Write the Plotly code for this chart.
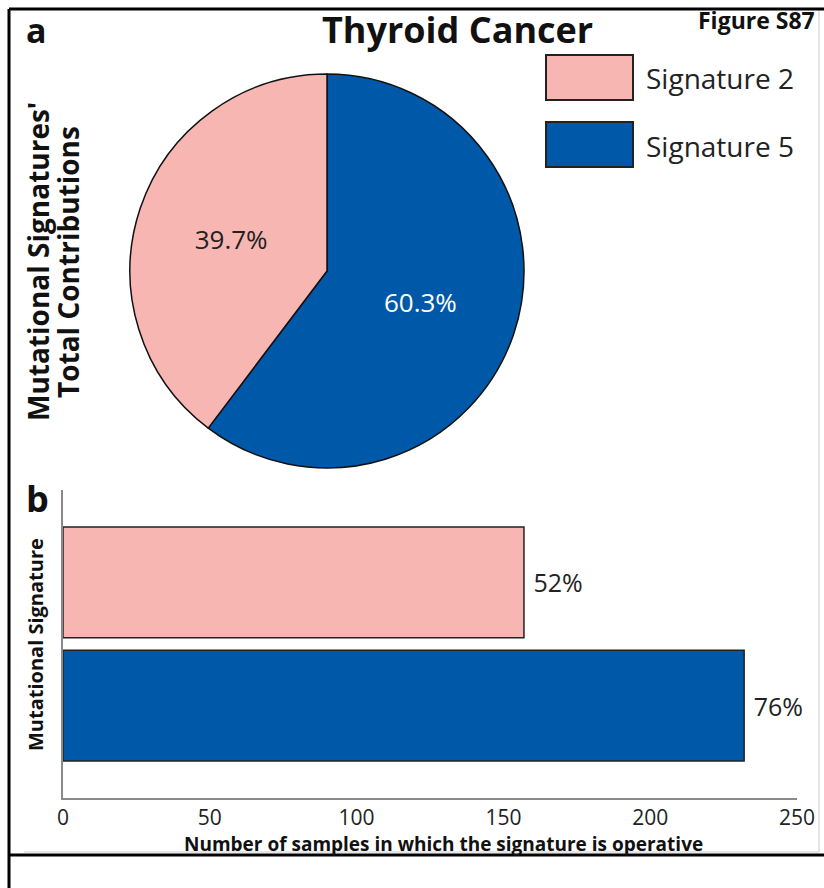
import plotly.graph_objects as go

# ---- data ----
pie_labels = ["Signature 5", "Signature 2"]
pie_values = [60.3, 39.7]
legend_labels = ["Signature 2", "Signature 5"]
bar_counts = [157, 232]
bar_pct_text = ["52%", "76%"]
x_ticks = [0, 50, 100, 150, 200, 250]

PINK = "#F7B6B2"
BLUE = "#0058A8"
FONT = "Open Sans"

W, H = 824, 888

def px(x):
    return x / W

def py(y):
    return 1 - y / H

fig = go.Figure()

fig.add_trace(go.Pie(
    labels=pie_labels, values=pie_values, sort=False,
    direction="clockwise", rotation=0,
    marker=dict(colors=[BLUE, PINK], line=dict(color="#111111", width=1.5)),
    texttemplate="%{value:.1f}%", textposition="inside",
    insidetextfont=dict(family=FONT, size=26, color=["#ffffff", "#222222"]),
    domain=dict(x=[px(130), px(524)], y=[py(468), py(74)]),
    showlegend=False, hoverinfo="label+percent",
))

# bars: pink (Signature 2) on top (y=1), blue (Signature 5) below (y=0)
fig.add_trace(go.Bar(
    x=bar_counts, y=[1, 0], orientation="h",
    marker=dict(color=[PINK, BLUE], line=dict(color="#222222", width=1.5)),
    width=0.9,
    text=bar_pct_text, texttemplate="\u00a0%{text}",
    textposition="outside", cliponaxis=False,
    textfont=dict(family=FONT, size=25, color="#222222"),
    showlegend=False, xaxis="x", yaxis="y",
))

fig.update_layout(
    width=W, height=H, autosize=False, margin=dict(l=0, r=0, t=0, b=0, autoexpand=False),
    paper_bgcolor="white", plot_bgcolor="white",
    xaxis=dict(domain=[px(63), px(797)], range=[0, 250], tickvals=x_ticks,
               showline=True, linecolor="#8a8a8a", linewidth=2,
               showgrid=False, zeroline=False, ticks="", ticklabelstandoff=0,
               tickfont=dict(family=FONT, size=21, color="#222222"),
               anchor="y"),
    yaxis=dict(domain=[py(798), py(490)], range=[-0.75, 1.75],
               showline=True, linecolor="#8a8a8a", linewidth=2,
               showgrid=False, zeroline=False, showticklabels=False, ticks="",
               anchor="x"),
)

shapes = []
# frame lines
shapes.append(dict(type="line", xref="paper", yref="paper", x0=px(24), x1=px(819), y0=py(852), y1=py(852),
                   line=dict(color="#dddddd", width=1.5)))
shapes.append(dict(type="line", xref="paper", yref="paper", x0=px(819), x1=px(819), y0=py(852), y1=py(10),
                   line=dict(color="#dddddd", width=1.5)))
shapes.append(dict(type="line", xref="paper", yref="paper", x0=px(9), x1=1, y0=py(9), y1=py(9),
                   line=dict(color="black", width=3)))
shapes.append(dict(type="line", xref="paper", yref="paper", x0=px(9), x1=px(9), y0=py(9), y1=0,
                   line=dict(color="black", width=3)))
shapes.append(dict(type="line", xref="paper", yref="paper", x0=px(9), x1=1, y0=py(855), y1=py(855),
                   line=dict(color="black", width=3)))
# legend boxes
for (y0, y1), c in zip([(55, 100), (122, 167)], [PINK, BLUE]):
    shapes.append(dict(type="rect", xref="paper", yref="paper", x0=px(546), x1=px(633), y0=py(y1), y1=py(y0),
                       fillcolor=c, line=dict(color="#222222", width=2)))
fig.update_layout(shapes=shapes)

ann = []
def A(text, x, y, size, bold=False, angle=0, xanchor="center", color="#111111"):
    t = f"<b>{text}</b>" if bold else text
    ann.append(dict(text=t, x=px(x), y=py(y), xref="paper", yref="paper", showarrow=False,
                    font=dict(family=FONT, size=size, color=color), textangle=angle,
                    xanchor=xanchor, yanchor="middle"))

A("Thyroid Cancer", 457, 30, 36, bold=True)
A("Figure S87", 756, 20, 23, bold=True)
A("a", 36, 30, 34, bold=True)
A("b", 37, 498, 36, bold=True)
A(legend_labels[0], 644, 78, 28, xanchor="left", color="#222222")
A(legend_labels[1], 644, 146, 28, xanchor="left", color="#222222")
A("Mutational Signatures'", 38, 262, 28, bold=True, angle=-90)
A("Total Contributions", 68, 262, 28, bold=True, angle=-90)
A("Mutational Signature", 35, 645, 20, bold=True, angle=-90)
A("Number of samples in which the signature is operative", 443, 844, 19, bold=True)
fig.update_layout(annotations=ann)

post = ("document.body.style.margin='0';document.body.style.padding='0';"
        "document.body.style.overflow='hidden';"
        "var gd=document.getElementById('{plot_id}');"
        "gd.style.width='824px';gd.style.height='888px';"
        "Plotly.relayout(gd,{width:824,height:888});")

fig.write_html("out.html", config={"responsive": False, "displayModeBar": False},
               post_script=post)
